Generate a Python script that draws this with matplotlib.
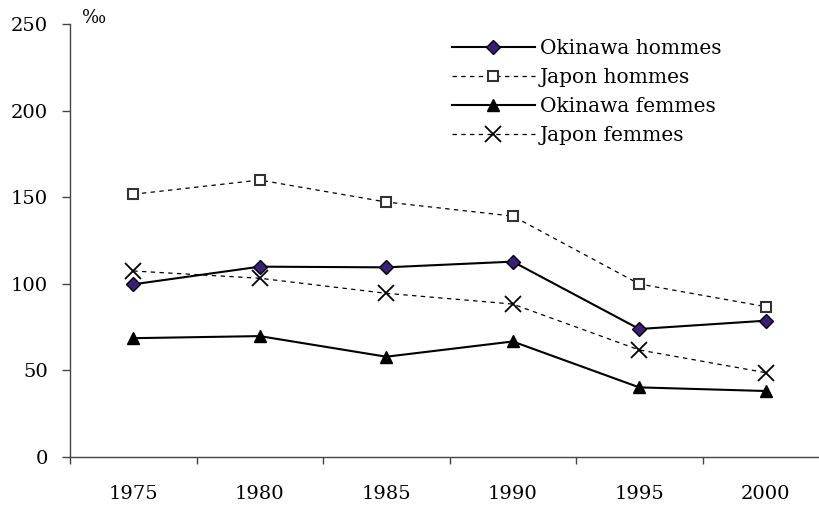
import matplotlib
matplotlib.use("Agg")
import matplotlib.pyplot as plt
import numpy as np

years = ["1975", "1980", "1985", "1990", "1995", "2000"]
okinawa_hommes = [99.7, 109.9, 109.5, 112.8, 73.9, 78.7]
japon_hommes = [151.7, 159.9, 147.2, 139.1, 99.9, 86.8]
okinawa_femmes = [68.6, 69.8, 57.9, 66.7, 40.2, 38.1]
japon_femmes = [107.4, 103.2, 94.5, 88.3, 61.8, 48.7]
y_ticks = [0, 50, 100, 150, 200, 250]

plt.rcParams['font.family'] = ['DejaVu Serif']

W, H = 819, 505
fig = plt.figure(figsize=(W / 100, H / 100), dpi=100)
ax = fig.add_axes([70 / W, (H - 457) / H, 759 / W, 433 / H])

x = np.arange(len(years))
dash = (0, (3.5, 3.5))
ax.plot(x, okinawa_hommes, color='black', lw=1.5, marker='D', markersize=7.5,
        markerfacecolor='#3a1f78', markeredgecolor='black', markeredgewidth=1,
        label='Okinawa hommes')
ax.plot(x, japon_hommes, color='black', lw=0.9, linestyle=dash, marker='s', markersize=7.5,
        markerfacecolor='white', markeredgecolor='#333333', markeredgewidth=1.5,
        label='Japon hommes')
ax.plot(x, okinawa_femmes, color='black', lw=1.5, marker='^', markersize=9,
        markerfacecolor='black', markeredgecolor='black',
        label='Okinawa femmes')
ax.plot(x, japon_femmes, color='black', lw=0.9, linestyle=dash, marker='x', markersize=11,
        markeredgewidth=1.3, markeredgecolor='black',
        label='Japon femmes')

ax.set_xlim(-0.5, len(years) - 0.5)
ax.set_ylim(0, 250)
ax.set_yticks(y_ticks)
ax.set_yticklabels([str(v) for v in y_ticks])
ax.set_xticks(np.arange(len(years) + 1) - 0.5)
ax.set_xticklabels([])
ax.set_xticks(x, minor=True)
ax.set_xticklabels(years, minor=True)

for s in ['top', 'right']:
    ax.spines[s].set_visible(False)
for s in ['left', 'bottom']:
    ax.spines[s].set_color('#444444')
    ax.spines[s].set_linewidth(1.0)

ax.tick_params(axis='y', which='major', direction='out', length=6, width=1, color='#444444',
               labelsize=14, pad=10)
ax.tick_params(axis='x', which='major', direction='out', length=5, width=1, color='#444444')
ax.tick_params(axis='x', which='minor', length=0, labelsize=14, pad=20)

ax.text(82 / W, (H - 18) / H, '‰', transform=fig.transFigure, fontsize=13,
        ha='left', va='center')

leg = ax.legend(loc='upper left', bbox_to_anchor=(452 / W, (H - 39) / H),
                bbox_transform=fig.transFigure, frameon=False, fontsize=14.5,
                handlelength=4.1, handletextpad=0.25, labelspacing=0.5,
                borderpad=0, borderaxespad=0)

fig.savefig('out.png', dpi=100)
